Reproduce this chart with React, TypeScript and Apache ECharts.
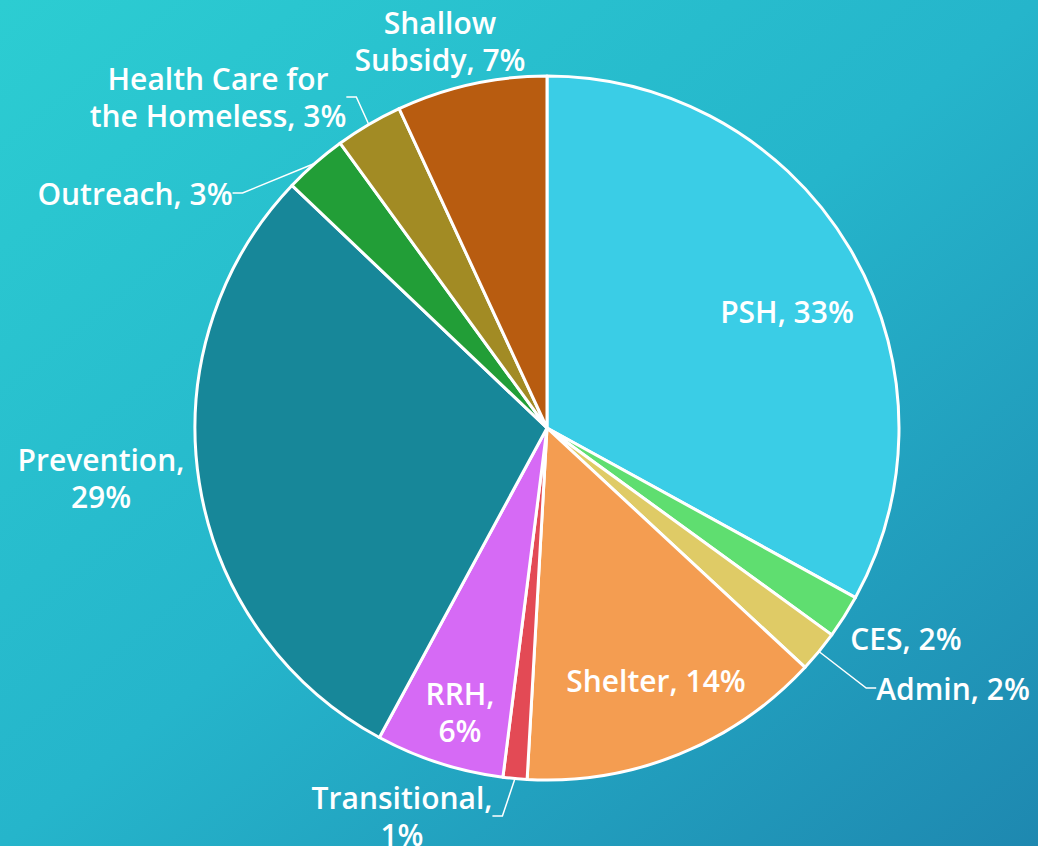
import React, { useEffect, useRef } from "react";
import * as echarts from "echarts";

const categories = ["PSH", "CES", "Admin", "Shelter", "Transitional", "RRH", "Prevention", "Outreach", "Health Care for the Homeless", "Shallow Subsidy"];
const values = [33, 2, 1.9, 14, 1.1, 5.9, 29.2, 2.9, 3.1, 6.9];
const labelNames = ["PSH", "CES", "Admin", "Shelter", "Transitional", "RRH", "Prevention", "Outreach", "Health Care for\nthe Homeless", "Shallow\nSubsidy"];
const breakBeforePct = [false, false, false, false, true, true, true, false, false, false];
const colors = ["#3acde6", "#5fde70", "#dfcb66", "#f49d51", "#e34a55", "#d66af5", "#178799", "#229e37", "#a28b24", "#b85c10"];
const insideLabels = [true, false, false, true, false, true, false, false, false, false];
const showLine = [false, false, true, false, true, false, false, true, true, false];
// label centres (layout only)
const labelPos: number[][] = [
  [787, 311], [906, 638], [953, 688], [656, 680], [402, 816],
  [460, 712], [101, 478], [135, 193], [218, 97], [440, 41],
];

export default function App() {
  const ref = useRef<HTMLDivElement>(null);
  useEffect(() => {
    if (!ref.current) return;
    const chart = echarts.init(ref.current, undefined, { renderer: "svg" });
    const data = categories.map((name, i) => ({
      name,
      value: values[i],
      itemStyle: { color: colors[i] },
      label: { position: insideLabels[i] ? "inside" : "outside" },
      labelLine: { show: showLine[i] },
    }));
    chart.setOption({
      animation: false,
      backgroundColor: {
        type: "linear", x: 0, y: 0, x2: 1, y2: 1,
        colorStops: [
          { offset: 0, color: "#2ccdd2" },
          { offset: 0.5, color: "#25b5cb" },
          { offset: 1, color: "#1e88b0" },
        ],
      },
      series: [
        {
          type: "pie",
          center: [547, 428],
          radius: [0, 352],
          startAngle: 90,
          clockwise: true,
          avoidLabelOverlap: false,
          itemStyle: { borderColor: "#ffffff", borderWidth: 3 },
          label: {
            color: "#ffffff",
            fontFamily: "'Open Sans', sans-serif",
            fontWeight: 600,
            fontSize: 30,
            lineHeight: 37,
            align: "center",
            formatter: (p: any) =>
              labelNames[p.dataIndex] + "," + (breakBeforePct[p.dataIndex] ? "\n" : " ") + Math.round(p.percent) + "%",
          },
          labelLine: { lineStyle: { color: "#ffffff", width: 1.5 }, length: 10, length2: 10 },
          labelLayout: (p: any) => {
            const pos = labelPos[p.dataIndex];
            return { x: pos[0], y: pos[1], align: "center", verticalAlign: "middle" };
          },
          data,
        },
      ],
    });
    return () => chart.dispose();
  }, []);
  return <div ref={ref} style={{ position: "fixed", left: 0, top: 0, width: 1038, height: 846 }} />;
}
